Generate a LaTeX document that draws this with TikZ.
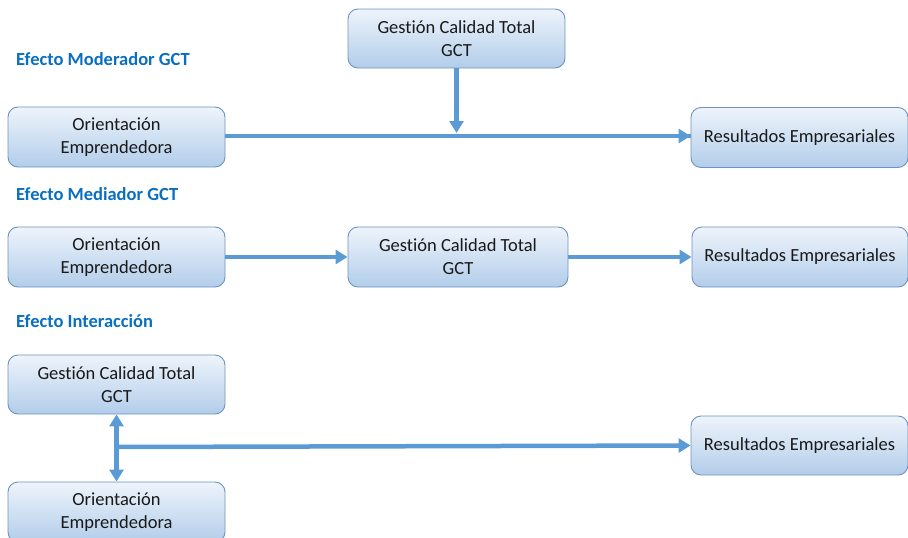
\documentclass[tikz,border=0pt]{standalone}
\usepackage{fontspec}
\setmainfont[Ligatures=NoCommon]{Carlito}
\usetikzlibrary{arrows.meta}
\definecolor{boxtop}{HTML}{EEF4FB}
\definecolor{boxbot}{HTML}{B2CDEA}
\definecolor{boxline}{HTML}{6E93C0}
\definecolor{flow}{HTML}{5B9BD5}
\definecolor{heading}{HTML}{0A6FC0}
\tikzset{
  box/.style={draw=boxline, line width=0.9pt, rounded corners=10pt,
    top color=boxtop, bottom color=boxbot, minimum height=59pt,
    minimum width=217pt, align=center, font=\fontsize{18.5}{23}\selectfont,
    text=black!90, inner sep=2pt},
  headtext/.style={anchor=west, font=\bfseries\fontsize{18.5}{21}\selectfont, text=heading, inner sep=0pt},
  link/.style={draw=flow, line width=4.5pt, -{Triangle[width=14pt,length=12pt]}},
  biglink/.style={draw=flow, line width=4.5pt, {Triangle[width=14pt,length=12pt]}-{Triangle[width=14pt,length=12pt]}},
  plain/.style={draw=flow, line width=4.5pt}
}
\begin{document}
\begin{tikzpicture}[x=1pt,y=-1pt]
\useasboundingbox (0,0) rectangle (908,538);
\clip (0,0) rectangle (908,538);

% Moderating effect
\node[headtext] (h1) at (16,59) {Efecto Moderador GCT};
\node[box] (gct1) at (456.5,38.5) {Gestión Calidad Total\\GCT};
\node[box, minimum height=60pt] (ori1) at (116.5,137) {Orientación\\Emprendedora};
\node[box, minimum height=60pt] (res1) at (799.5,137.5) {Resultados Empresariales};
\coordinate (join1) at (gct1.south |- 0,133);
\draw[plain] (ori1.east |- 0,136) -- (res1.west |- 0,136);
\draw[link] (gct1.south) -- (join1);
\draw[link] (res1.west |- 0,136) ++(-20,0) -- (res1.west |- 0,136);

% Mediating effect
\node[headtext] (h2) at (16,194) {Efecto Mediador GCT};
\node[box, minimum height=60pt] (ori2) at (116.5,257) {Orientación\\Emprendedora};
\node[box, minimum height=60pt, minimum width=220pt] (gct2) at (458,257) {Gestión Calidad Total\\GCT};
\node[box, minimum height=60pt, minimum width=216pt] (res2) at (800,257) {Resultados Empresariales};
\draw[link] (ori2) -- (gct2);
\draw[link] (gct2) -- (res2);

% Interaction effect
\node[headtext] (h3) at (16,321) {Efecto Interacción};
\node[box] (gct3) at (116.5,384.5) {Gestión Calidad Total\\GCT};
\node[box, minimum height=60pt] (ori3) at (116.5,512) {Orientación\\Emprendedora};
\node[box] (res3) at (799.5,445.5) {Resultados Empresariales};
\coordinate (join3) at (gct3.south |- 0,447);
\draw[biglink] (gct3.south) -- (ori3.north);
\draw[link] (join3) -- (res3.west);
\end{tikzpicture}
\end{document}
